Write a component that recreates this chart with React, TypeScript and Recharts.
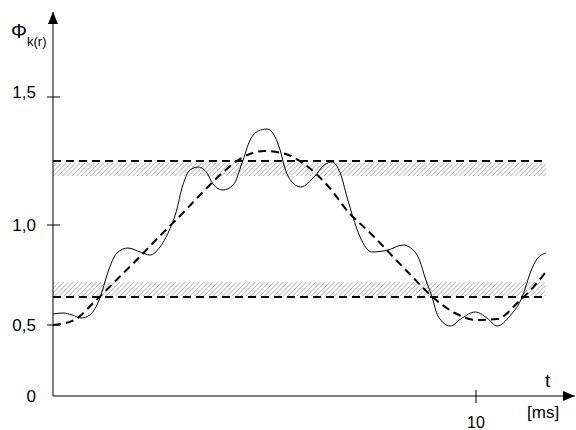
import React from "react";
import {
  LineChart,
  Line,
  XAxis,
  YAxis,
  ReferenceArea,
  ReferenceLine,
} from "recharts";

// dashed curve (fundamental), t in ms
const DASHED_T = [
  0, 0.5, 1, 1.5, 2, 2.5, 3, 3.5, 4, 4.5, 5, 5.5, 6, 6.5, 7, 7.5, 8, 8.5, 9,
  9.5, 10, 10.5, 11, 11.5, 11.65,
];
const DASHED_V = [
  0.5, 0.525, 0.62, 0.725, 0.83, 0.94, 1.045, 1.155, 1.26, 1.34, 1.37, 1.355,
  1.295, 1.195, 1.06, 0.96, 0.85, 0.74, 0.635, 0.56, 0.525, 0.53, 0.615, 0.725,
  0.765,
];

// solid curve (with harmonics)
const SOLID_T = [
  0, 0.24, 0.45, 0.66, 0.87, 1.11, 1.3, 1.51, 1.77, 2.06, 2.29, 2.53, 2.72,
  2.91, 3.07, 3.24, 3.43, 3.64, 3.78, 4.02, 4.26, 4.47, 4.66, 4.85, 5.06, 5.25,
  5.37, 5.48, 5.65, 5.86, 6.19, 6.41, 6.6, 6.79, 6.95, 7.09, 7.26, 7.54, 7.92,
  8.27, 8.56, 8.68, 8.79, 8.96, 9.1, 9.39, 9.67, 9.98, 10.26, 10.5, 10.8, 11.11,
  11.28, 11.44, 11.65,
];
const SOLID_V = [
  0.555, 0.56, 0.55, 0.535, 0.55, 0.635, 0.765, 0.86, 0.885, 0.865, 0.85, 0.89,
  0.96, 1.065, 1.2, 1.275, 1.29, 1.26, 1.205, 1.175, 1.2, 1.31, 1.425, 1.47,
  1.48, 1.44, 1.375, 1.285, 1.215, 1.19, 1.245, 1.3, 1.315, 1.26, 1.14, 1.04,
  0.94, 0.865, 0.875, 0.9, 0.865, 0.815, 0.74, 0.64, 0.545, 0.495, 0.535,
  0.565, 0.535, 0.495, 0.545, 0.65, 0.76, 0.83, 0.86,
];

// thresholds and tolerance bands
const T_END = 11.65;
const UPPER_LIMIT = 1.32;
const LOWER_LIMIT = 0.64;
const UPPER_BAND = [1.245, 1.31];
const LOWER_BAND = [0.645, 0.715];

// axis ticks (schematic axis, labels are not linear)
const Y_TICKS = [0.145, 0.5, 1.0, 1.64];
const Y_TICK_LABELS = ["0", "0,5", "1,0", "1,5"];
const X_TICKS = [10];
const X_TICK_LABELS = ["10"];

const dashedData = DASHED_T.map((t, i) => ({ t, v: DASHED_V[i] }));
const solidData = SOLID_T.map((t, i) => ({ t, v: SOLID_V[i] }));

const FONT = "'Liberation Sans', Arial, sans-serif";

function YTick(props: any) {
  const { x, y, index } = props;
  // top label sits a little above its tick in the original drawing
  const shift = index === 3 ? -5 : 0;
  return (
    <g>
      {index > 0 && <line x1={x - 6} x2={x + 7} y1={y} y2={y} stroke="#000" />}
      <text
        x={x - 17}
        y={y + shift}
        dy="0.36em"
        textAnchor="end"
        fontSize={17}
        fontFamily={FONT}
        fill="#000"
      >
        {Y_TICK_LABELS[index]}
      </text>
    </g>
  );
}

function XTick(props: any) {
  const { x, y, index } = props;
  return (
    <g>
      <line x1={x} x2={x} y1={y - 6} y2={y + 7} stroke="#000" />
      <text
        x={x}
        y={y + 32}
        textAnchor="middle"
        fontSize={16}
        fontFamily={FONT}
        fill="#000"
      >
        {X_TICK_LABELS[index]}
      </text>
    </g>
  );
}

export default function App() {
  return (
    <div
      style={{
        position: "absolute",
        left: 0,
        top: 0,
        width: 576,
        height: 430,
        background: "#fff",
        fontFamily: FONT,
      }}
    >
      <LineChart
        width={576}
        height={430}
        margin={{ top: 12, right: 1, bottom: 0, left: 0 }}
      >
        <defs>
          <pattern
            id="hatch"
            width="3.3"
            height="3.3"
            patternUnits="userSpaceOnUse"
            patternTransform="rotate(45)"
          >
            <line x1="0" y1="0" x2="0" y2="3.3" stroke="#777" strokeWidth="0.9" />
          </pattern>
          <marker
            id="arrow"
            viewBox="0 0 12 10"
            refX="12"
            refY="5"
            markerWidth="12"
            markerHeight="10"
            markerUnits="userSpaceOnUse"
            orient="auto-start-reverse"
          >
            <path d="M0,0 L12,5 L0,10 z" fill="#000" />
          </marker>
        </defs>
        <XAxis
          type="number"
          dataKey="t"
          domain={[0, 12.34]}
          ticks={X_TICKS}
          interval={0}
          height={34}
          tickSize={0}
          tickMargin={0}
          tickLine={false}
          tick={<XTick />}
          axisLine={{ stroke: "#000", markerEnd: "url(#arrow)" }}
          allowDataOverflow
        />
        <YAxis
          type="number"
          dataKey="v"
          domain={[0.145, 2.065]}
          ticks={Y_TICKS}
          interval={0}
          width={53}
          tickSize={0}
          tickMargin={0}
          tickLine={false}
          tick={<YTick />}
          axisLine={{ stroke: "#000", markerStart: "url(#arrow)" }}
          allowDataOverflow
        />
        <ReferenceArea
          x1={0}
          x2={T_END}
          y1={UPPER_BAND[0]}
          y2={UPPER_BAND[1]}
          fill="url(#hatch)"
          fillOpacity={1}
          stroke="none"
        />
        <ReferenceArea
          x1={0}
          x2={T_END}
          y1={LOWER_BAND[0]}
          y2={LOWER_BAND[1]}
          fill="url(#hatch)"
          fillOpacity={1}
          stroke="none"
        />
        <ReferenceLine
          segment={[
            { x: 0, y: UPPER_LIMIT },
            { x: T_END, y: UPPER_LIMIT },
          ]}
          stroke="#000"
          strokeWidth={2}
          strokeDasharray="8 5"
        />
        <ReferenceLine
          segment={[
            { x: 0, y: LOWER_LIMIT },
            { x: T_END, y: LOWER_LIMIT },
          ]}
          stroke="#000"
          strokeWidth={2}
          strokeDasharray="8 5"
        />
        <Line
          data={solidData}
          dataKey="v"
          type="monotone"
          stroke="#000"
          strokeWidth={1}
          dot={false}
          activeDot={false}
          isAnimationActive={false}
        />
        <Line
          data={dashedData}
          dataKey="v"
          type="monotone"
          stroke="#000"
          strokeWidth={2}
          strokeDasharray="8 5"
          dot={false}
          activeDot={false}
          isAnimationActive={false}
        />
      </LineChart>
      <div style={{ position: "absolute", left: 11, top: 21, fontSize: 20, lineHeight: 1 }}>
        Φ
        <span style={{ fontSize: 13, position: "relative", top: 8 }}>k(r)</span>
      </div>
      <div style={{ position: "absolute", left: 545, top: 371, fontSize: 19, lineHeight: 1 }}>
        t
      </div>
      <div style={{ position: "absolute", left: 527, top: 404, fontSize: 17, lineHeight: 1 }}>
        [ms]
      </div>
    </div>
  );
}
